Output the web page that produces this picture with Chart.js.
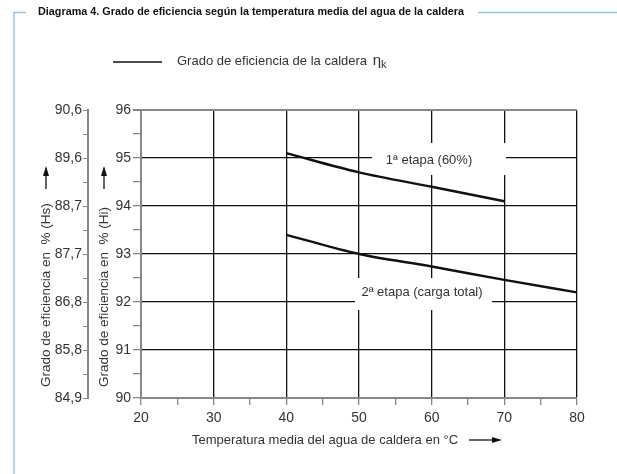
<!DOCTYPE html>
<html>
<head>
<meta charset="utf-8">
<script src="https://cdn.jsdelivr.net/npm/chart.js@4"></script>
<style>
  body { margin: 0; background: #fff; }
  #eff-chart { display: block; }
</style>
</head>
<body>
<canvas id="eff-chart" width="617" height="474"></canvas>
<script>
const temps1 = [40, 50, 60, 70];
const eff1 = [95.1, 94.7, 94.4, 94.1];
const temps2 = [40, 50, 60, 70, 80];
const eff2 = [93.4, 93.0, 92.74, 92.46, 92.2];
const hsLabels = ["84,9", "85,8", "86,8", "87,7", "88,7", "89,6", "90,6"];
const seriesNames = ["1ª etapa (60%)", "2ª etapa (carga total)"];

const FONT = "'Liberation Sans', Arial, sans-serif";
Chart.defaults.font.family = FONT;
Chart.defaults.color = "#333";

function arrow(ctx, x1, y1, x2, y2) {
  const a = Math.atan2(y2 - y1, x2 - x1);
  ctx.beginPath();
  ctx.moveTo(x1, y1);
  ctx.lineTo(x2 - 8 * Math.cos(a), y2 - 8 * Math.sin(a));
  ctx.stroke();
  ctx.beginPath();
  ctx.moveTo(x2, y2);
  ctx.lineTo(x2 - 10 * Math.cos(a) + 3 * Math.sin(a), y2 - 10 * Math.sin(a) - 3 * Math.cos(a));
  ctx.lineTo(x2 - 10 * Math.cos(a) - 3 * Math.sin(a), y2 - 10 * Math.sin(a) + 3 * Math.cos(a));
  ctx.closePath();
  ctx.fill();
}

const decor = {
  id: "decor",
  beforeDatasetsDraw(chart) {
    const ctx = chart.ctx;
    ctx.save();
    // white boxes behind the curve labels
    ctx.fillStyle = "#fff";
    ctx.fillRect(372, 143, 134, 32);
    ctx.fillRect(355, 278, 137, 32);
    ctx.fillStyle = "#333";
    ctx.font = "13px " + FONT;
    ctx.textAlign = "center";
    ctx.textBaseline = "middle";
    ctx.fillText(seriesNames[0], 429, 160);
    ctx.fillText(seriesNames[1], 422, 292);
    ctx.restore();
  },
  afterDraw(chart) {
    const ctx = chart.ctx;
    ctx.save();
    // frame
    ctx.strokeStyle = "#9dc3ea";
    ctx.lineWidth = 1.5;
    ctx.beginPath();
    ctx.moveTo(26, 12.5);
    ctx.lineTo(14, 12.5);
    ctx.lineTo(14, 474);
    ctx.stroke();
    ctx.beginPath();
    ctx.moveTo(478, 12.5);
    ctx.lineTo(617, 12.5);
    ctx.stroke();
    // title
    ctx.fillStyle = "#111";
    ctx.font = "bold 11px " + FONT;
    ctx.textBaseline = "middle";
    const title = "Diagrama 4. Grado de eficiencia según la temperatura media del agua de la caldera";
    const w = ctx.measureText(title).width;
    ctx.save();
    ctx.translate(38, 12);
    ctx.scale(426 / w, 1);
    ctx.fillText(title, 0, 0);
    ctx.restore();
    // legend
    ctx.strokeStyle = "#111";
    ctx.lineWidth = 1.3;
    ctx.beginPath();
    ctx.moveTo(113, 62);
    ctx.lineTo(162, 62);
    ctx.stroke();
    ctx.fillStyle = "#333";
    ctx.font = "13px " + FONT;
    const legTxt = "Grado de eficiencia de la caldera ";
    ctx.fillText(legTxt, 177, 61);
    let lx = 177 + ctx.measureText(legTxt).width + 2;
    ctx.font = "15px " + FONT;
    ctx.fillText("η", lx, 61);
    lx += ctx.measureText("η").width;
    ctx.font = "11px " + FONT;
    ctx.fillText("k", lx, 65);
    // x axis title and arrow
    ctx.font = "13px " + FONT;
    ctx.fillStyle = "#333";
    ctx.textAlign = "left";
    ctx.fillText("Temperatura media del agua de caldera en °C", 192, 440);
    ctx.strokeStyle = "#111";
    ctx.fillStyle = "#111";
    ctx.lineWidth = 1.3;
    arrow(ctx, 469, 440, 502, 440);
    // y axis titles and arrows
    ctx.font = "13.5px " + FONT;
    [["Grado de eficiencia en  % (Hs)", 46], ["Grado de eficiencia en  % (Hi)", 104]].forEach(([t, x]) => {
      ctx.save();
      ctx.translate(x, 387);
      ctx.rotate(-Math.PI / 2);
      ctx.fillStyle = "#333";
      ctx.textAlign = "left";
      ctx.fillText(t, 0, 0);
      ctx.restore();
      arrow(ctx, x, 189, x, 166);
    });
    ctx.restore();
  }
};

const gridBlack = "#111";
const axisGrey = "#888";

const config = {
  type: "line",
  data: {
    datasets: [
      {
        label: seriesNames[0],
        data: temps1.map((t, i) => ({ x: t, y: eff1[i] })),
        borderColor: "#111",
        borderWidth: 2.4,
        pointRadius: 0,
        cubicInterpolationMode: "monotone",
        yAxisID: "y",
      },
      {
        label: seriesNames[1],
        data: temps2.map((t, i) => ({ x: t, y: eff2[i] })),
        borderColor: "#111",
        borderWidth: 2.4,
        pointRadius: 0,
        cubicInterpolationMode: "monotone",
        yAxisID: "y",
      },
    ],
  },
  options: {
    responsive: false,
    animation: false,
    layout: { padding: { left: 0, right: 40, top: 110, bottom: 0 } },
    plugins: {
      legend: { display: false },
      title: { display: false },
      tooltip: { enabled: false },
    },
    scales: {
      x: {
        type: "linear",
        min: 20,
        max: 80,
        ticks: {
          stepSize: 5,
          autoSkip: false,
          maxRotation: 0,
          padding: 5,
          font: { size: 14 },
          color: "#333",
          callback: (v) => (v % 10 === 0 ? v : ""),
        },
        grid: {
          color: (c) => (c.tick && c.tick.value % 10 === 0 && c.tick.value !== 20 ? gridBlack : "rgba(0,0,0,0)"),
          lineWidth: 1.3,
          tickColor: axisGrey,
          tickLength: 7,
        },
        border: { color: axisGrey, width: 2 },
        afterFit: (s) => { s.height = 76; },
      },
      y: {
        position: "left",
        weight: 0,
        min: 90,
        max: 96,
        ticks: {
          stepSize: 0.5,
          autoSkip: false,
          padding: 2,
          font: { size: 14 },
          color: "#333",
          callback: (v) => (Number.isInteger(v) ? v : ""),
        },
        grid: {
          color: (c) => {
            if (!c.tick) return "rgba(0,0,0,0)";
            const v = c.tick.value;
            if (v === 96) return axisGrey;
            if (Number.isInteger(v) && v !== 90) return gridBlack;
            return "rgba(0,0,0,0)";
          },
          lineWidth: (c) => (c.tick && c.tick.value === 96 ? 2 : 1.3),
          tickColor: axisGrey,
          tickLength: 8,
        },
        border: { color: axisGrey, width: 2 },
        afterFit: (s) => { s.width = 53; },
      },
      hs: {
        position: "left",
        weight: 1,
        min: 90,
        max: 96,
        ticks: {
          stepSize: 0.5,
          autoSkip: false,
          padding: 1,
          font: { size: 14 },
          color: "#333",
          callback: (v) => (Number.isInteger(v) ? hsLabels[v - 90] : ""),
        },
        grid: {
          drawOnChartArea: false,
          tickColor: axisGrey,
          tickLength: 5,
        },
        border: { color: axisGrey, width: 2 },
        afterFit: (s) => { s.width = 88; },
      },
    },
  },
  plugins: [decor],
};

const chartCanvas = document.getElementById("eff-chart");
new Chart(chartCanvas, config);
</script>
</body>
</html>
